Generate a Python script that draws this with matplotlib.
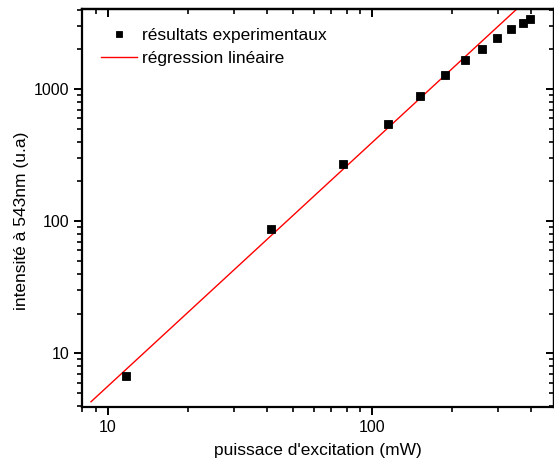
import matplotlib
matplotlib.use("Agg")
import matplotlib.pyplot as plt
import matplotlib.ticker as ticker
import numpy as np

plt.rcParams['font.family'] = ['Liberation Sans', 'DejaVu Sans']

# data
power_mw = [11.7, 41.3, 77.8, 114.7, 151, 187.8, 224.5, 261, 297.6, 334, 371, 393.5]
intensity = [6.7, 87, 269, 546, 885, 1270, 1659, 2000, 2446, 2833, 3179, 3410]
# linear regression in log-log: log10(y) = intercept + slope*log10(x)
fit_slope = 1.845
fit_intercept = -1.093
fit_x_range = [8.62, 420]

x_label = "puissace d'excitation (mW)"
y_label = "intensité à 543nm (u.a)"
legend_labels = ["résultats experimentaux", "régression linéaire"]

fig = plt.figure(figsize=(5.54, 4.68), dpi=100)
ax = fig.add_axes([82/554, 1-407/468, (553.5-82)/554, (407-9.3)/468])

fx = np.logspace(np.log10(fit_x_range[0]), np.log10(fit_x_range[1]), 50)
fy = 10**(fit_intercept + fit_slope*np.log10(fx))

ax.plot(power_mw, intensity, linestyle='none', marker='s', markersize=6.0,
        markeredgewidth=0.6, color='black', label=legend_labels[0], zorder=3)
ax.plot(fx, fy, color='red', linewidth=1.0, label=legend_labels[1], zorder=2)

ax.set_xscale('log')
ax.set_yscale('log')
ax.set_xlim(7.97, 485)
ax.set_ylim(3.92, 4018)

fmt = ticker.FuncFormatter(lambda v, _: f"{v:g}")
ax.xaxis.set_major_locator(ticker.LogLocator(base=10))
ax.yaxis.set_major_locator(ticker.LogLocator(base=10))
ax.xaxis.set_minor_locator(ticker.LogLocator(base=10, subs=np.arange(2, 10)))
ax.yaxis.set_minor_locator(ticker.LogLocator(base=10, subs=np.arange(2, 10)))
ax.xaxis.set_major_formatter(fmt)
ax.yaxis.set_major_formatter(fmt)
ax.xaxis.set_minor_formatter(ticker.NullFormatter())
ax.yaxis.set_minor_formatter(ticker.NullFormatter())

for s in ax.spines.values():
    s.set_linewidth(1.6)

ax.tick_params(which='major', direction='out', length=6, width=1.4,
               labelsize=11.5, pad=3)
ax.tick_params(which='minor', direction='out', length=3.5, width=1.2)

# mirrored ticks pointing inward on top/right
secx = ax.secondary_xaxis('top')
secx.tick_params(which='major', direction='in', length=6, width=1.4, labeltop=False)
secx.tick_params(which='minor', direction='in', length=3.5, width=1.2)
secx.xaxis.set_major_locator(ticker.LogLocator(base=10))
secx.xaxis.set_minor_locator(ticker.LogLocator(base=10, subs=np.arange(2, 10)))
secx.xaxis.set_major_formatter(ticker.NullFormatter())
secx.xaxis.set_minor_formatter(ticker.NullFormatter())
secy = ax.secondary_yaxis('right')
secy.tick_params(which='major', direction='in', length=6, width=1.4, labelright=False)
secy.tick_params(which='minor', direction='in', length=3.5, width=1.2)
secy.yaxis.set_major_locator(ticker.LogLocator(base=10))
secy.yaxis.set_minor_locator(ticker.LogLocator(base=10, subs=np.arange(2, 10)))
secy.yaxis.set_major_formatter(ticker.NullFormatter())
secy.yaxis.set_minor_formatter(ticker.NullFormatter())
for sa in (secx, secy):
    for s in sa.spines.values():
        s.set_linewidth(1.6)

ax.set_xlabel(x_label, fontsize=12.5)
ax.set_ylabel(y_label, fontsize=12.5)
# place labels in figure-pixel terms
ax.xaxis.set_label_coords(318/554, 1-450/468, transform=fig.transFigure)
ax.yaxis.set_label_coords(22/554, 1-221/468, transform=fig.transFigure)
ax.xaxis.label.set_va('center')
ax.yaxis.label.set_va('center')

ax.legend(loc='upper left', frameon=False, fontsize=12.5, handlelength=2.1,
          handletextpad=0.25, borderaxespad=0.0, labelspacing=0.45,
          markerscale=0.75, bbox_to_anchor=(12/471.5, 1-12/397.7))

fig.savefig("out.png", dpi=100)
